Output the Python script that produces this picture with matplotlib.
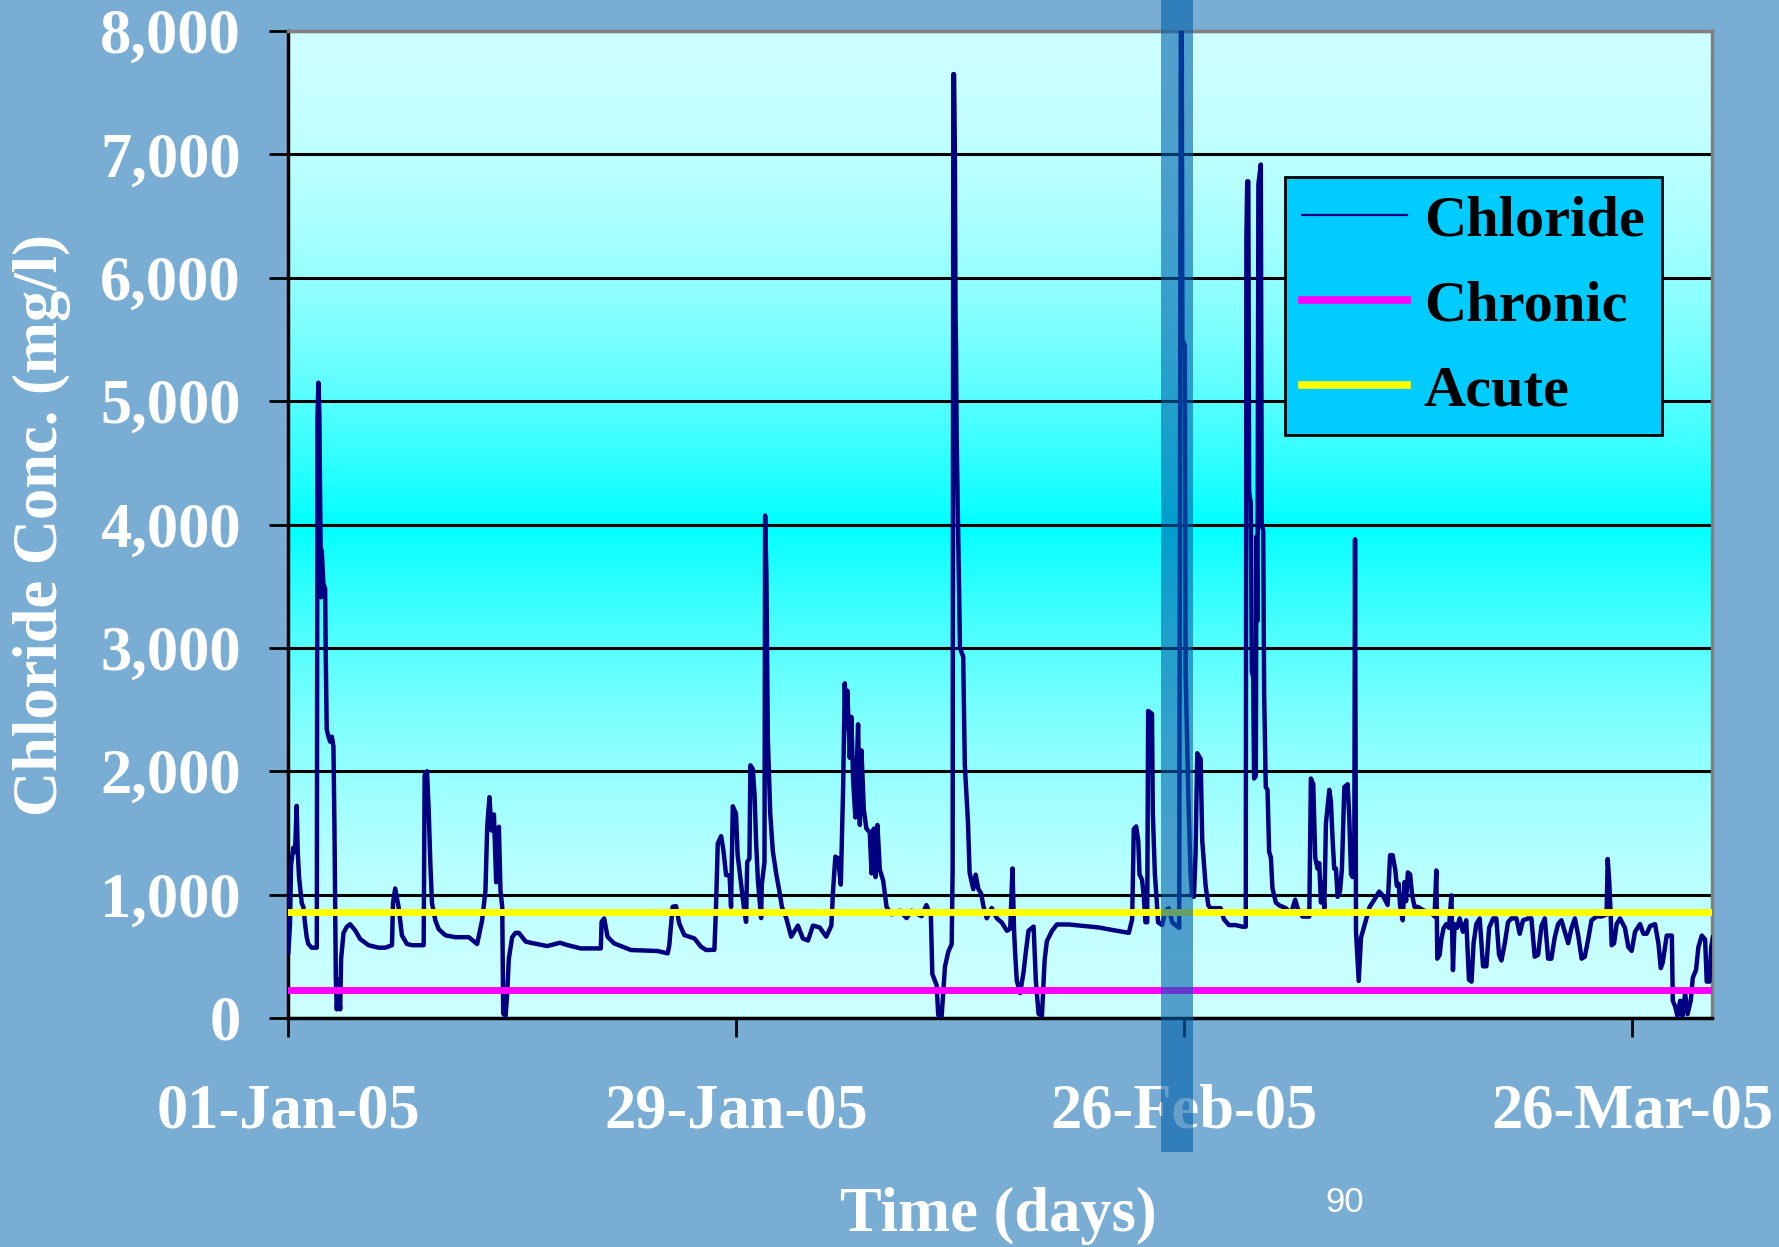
import matplotlib
matplotlib.use('Agg')
import matplotlib.pyplot as plt
import numpy as np
from matplotlib.patches import Rectangle
from matplotlib.ticker import FuncFormatter

# days since 01-Jan-05 and chloride concentration (mg/l)
day = [
    0.02, 0.125, 0.19, 0.33, 0.44, 0.54, 0.61, 0.69, 0.86, 0.96, 1.07, 1.17, 1.27, 1.48, 1.80,
    1.84, 1.90, 1.96, 2.00, 2.07, 2.11, 2.21, 2.32, 2.36, 2.42, 2.53, 2.63, 2.74, 2.84, 2.90,
    2.94, 2.99, 3.05, 3.15, 3.26, 3.32, 3.47, 3.68, 3.88, 4.20, 4.51, 5.03, 5.66, 6.08, 6.50,
    6.56, 6.70, 6.91, 7.12, 7.43, 7.75, 8.48, 8.54, 8.69, 8.79, 8.90, 9.00, 9.21, 9.42, 9.84,
    10.46, 11.30, 11.82, 12.13, 12.34, 12.45, 12.59, 12.72, 12.87, 13.01, 13.18, 13.28, 13.39,
    13.45, 13.60, 13.70, 13.80, 14.01, 14.22, 14.43, 14.85,
    15.16, 16.20, 17.00, 17.46, 18.30, 19.55, 19.60, 19.76, 19.97, 20.38, 21.43, 23.10, 23.73,
    23.83, 24.04, 24.25, 24.45, 24.77, 25.40, 25.81, 26.13, 26.65,
    26.75, 26.86, 27.07, 27.22, 27.38, 27.60, 27.69, 27.80, 28.00, 28.10, 28.32, 28.49, 28.63,
    28.70, 28.84, 28.90, 29.05, 29.16, 29.26, 29.37, 29.57, 29.61, 29.78, 29.82, 29.90, 29.99,
    30.14, 30.30, 30.51, 30.72, 30.87, 31.14, 31.45, 31.87, 32.18, 32.50, 32.81, 33.23, 33.64,
    33.96, 34.06, 34.21, 34.38, 34.55, 34.69, 34.80, 34.86, 34.96, 35.11, 35.21, 35.32, 35.46,
    35.63, 35.74, 35.84, 35.99, 36.15, 36.36, 36.47, 36.61, 36.72, 36.84, 36.99, 37.20, 37.41,
    37.72, 38.24, 38.66, 38.97, 39.60, 39.90, 40.18, 40.27, 40.54, 40.64, 40.85, 41.06, 41.27,
    41.48,
    41.54, 41.58, 41.63, 41.68, 41.72, 41.75, 41.79, 42.00, 42.20, 42.30, 42.50, 42.60, 42.83,
    42.98, 43.15, 43.32, 43.46, 43.67, 43.98, 44.30, 44.61, 44.93, 45.14, 45.28, 45.38, 45.44,
    45.55, 45.76, 45.97, 46.12, 46.28, 46.60, 46.74, 46.91, 47.12, 47.29, 47.43, 47.75, 48.06,
    48.79, 49.63, 50.67, 51.50, 52.55,
    52.76, 52.86, 53.01, 53.14, 53.22, 53.38, 53.49, 53.59, 53.70, 53.76, 54.00, 54.05, 54.18,
    54.28, 54.38, 54.63, 54.84, 55.05, 55.26, 55.47, 55.70, 55.74, 55.80, 55.86, 55.90, 56.05,
    56.10, 56.27, 56.41, 56.50, 56.62, 56.72, 56.83, 57.04, 57.14, 57.35, 57.52, 57.66, 58.29,
    58.50, 58.81, 59.23, 59.65, 59.86, 59.90, 59.95, 60.02, 60.07, 60.17, 60.24, 60.32, 60.38,
    60.49, 60.53, 60.59, 60.65, 60.80, 60.86, 60.95, 61.01, 61.11, 61.22, 61.32, 61.43, 61.53,
    61.74, 61.95, 62.37, 62.68, 62.95, 63.10, 63.41, 63.83, 63.93, 64.08, 64.20, 64.35, 64.45,
    64.56, 64.66, 64.77, 64.87, 65.08, 65.18, 65.29, 65.39, 65.50, 65.60, 65.75, 65.87, 66.02,
    66.23, 66.33, 66.44, 66.54, 66.64, 66.69, 66.75, 66.92, 67.06, 67.38, 67.60, 67.90, 68.20,
    68.42,
    68.73, 68.88, 69.04, 69.21, 69.30, 69.42, 69.50, 69.67, 69.78, 69.88, 69.99, 70.13, 70.26,
    70.41, 70.62, 71.00, 71.40, 71.66, 71.77, 71.83, 71.98, 72.08, 72.23, 72.39, 72.56, 72.71,
    72.81, 72.91, 73.06, 73.23, 73.43, 73.64, 73.81, 73.97, 74.10, 74.27, 74.48, 74.69, 74.90,
    75.07, 75.32, 75.52, 75.69, 75.84, 76.05, 76.25, 76.46, 76.78, 76.98, 77.19, 77.50, 77.71,
    77.92, 78.13, 78.34, 78.55, 78.76, 78.96, 79.17, 79.38, 79.59, 79.80, 80.01, 80.22, 80.43,
    80.64, 80.85, 81.05, 81.26, 81.47, 81.79, 82.10, 82.41, 82.48, 82.58, 82.67, 82.73, 82.88,
    83.04, 83.25, 83.56, 83.77, 83.98, 84.19, 84.50, 84.71, 84.92, 85.13, 85.44, 85.65, 85.80,
    85.92, 86.17, 86.49, 86.55, 86.70, 86.84, 87.01, 87.15, 87.32, 87.47, 87.67, 87.80, 88.00,
    88.15, 88.36, 88.57, 88.67, 88.84, 88.95, 89.05,
]
chloride = [
    530, 760, 1240, 1380, 1345, 1720, 1345, 1140, 930, 900, 760, 655, 600, 570, 570,
    4860, 5150, 4900, 4310, 3410, 3790, 3520, 3480, 2930, 2340, 2280, 2240, 2280, 2200, 1590,
    1030, 310, 70, 310, 70, 480, 690, 740, 760, 710, 640, 590, 570, 570, 590,
    930, 1050, 900, 670, 600, 590, 590, 1970, 2000, 1690, 1240, 930, 790, 720, 670,
    655, 655, 600, 790, 1030, 1550, 1790, 1520, 1650, 1100, 1550, 1030, 900,
    35, 17, 200, 480, 655, 690, 690, 620,
    610, 583, 610, 591, 564, 564, 780, 807, 659, 605, 551, 543, 524,
    591, 902, 907, 767, 672, 645, 578, 551, 553,
    900, 1414, 1474, 1353, 1157, 1157, 900, 1716, 1656, 1323, 1081, 900, 779,
    1263, 1293, 2048, 2018, 1807, 1414, 1112, 810, 1081, 1263, 4073, 3589, 2260,
    1656, 1353, 1172, 1021, 900, 810, 659, 749, 644, 628, 749, 734, 659,
    749, 1021, 1308, 1293, 1081, 1837, 2713, 2350, 2653, 2109, 2441, 1927, 1625,
    2381, 1565, 2169, 1686, 1535, 1505, 1172, 1535, 1142, 1565, 1202, 1112, 900,
    840, 870, 810, 870, 825, 915, 825, 356, 266, 24, 9, 417, 538,
    598,
    1212, 7650, 7650, 7000, 5700, 5450, 4714, 2997, 2929, 2054, 1582, 1178, 1044,
    1162, 1044, 1010, 909, 808, 892, 808, 774, 707, 724, 1212, 707, 539,
    303, 202, 370, 539, 707, 741, 303, 34, 17, 471, 623, 707, 758,
    758, 747, 734, 714, 690,
    799, 1530, 1553, 1438, 1164, 1119, 982, 776, 776, 2489, 2466, 1667, 1164,
    982, 776, 753, 868, 890, 776, 753, 731, 3770, 8000, 8000, 5500, 5450,
    2808, 1800, 1170, 1000, 982, 1324, 2146, 2100, 1438, 1073, 913, 890, 890,
    799, 753, 753, 740, 740, 6324, 6781, 6781, 4269, 4178, 2808, 2763, 1941,
    1963, 3904, 3219, 6758, 6918, 3995, 3950, 2626, 1872, 1849, 1347, 1301, 1050,
    936, 913, 890, 845, 959, 890, 822, 822, 1941, 1895, 1301, 1210, 1256,
    936, 1096, 890, 1575, 1849, 1758, 1438, 1210, 1210, 982, 1027, 1210, 1872,
    1895, 1621, 1164, 1142, 1164, 3881, 700, 300, 650, 800, 900, 960, 1025,
    994,
    916, 1320, 1320, 1196, 1071, 1087, 916, 792, 1102, 947, 1180, 1165, 994,
    901, 901, 870, 860, 823, 1196, 481, 512, 637, 730, 761, 730, 994,
    388, 761, 730, 807, 699, 792, 311, 295, 606, 761, 807, 419, 419,
    730, 807, 807, 512, 466, 606, 776, 807, 807, 683, 792, 807, 807,
    497, 512, 745, 807, 481, 481, 652, 761, 792, 699, 606, 730, 807,
    668, 481, 497, 637, 792, 823, 823, 839, 1289, 1102, 823, 590, 606,
    761, 807, 730, 575, 544, 699, 761, 683, 683, 745, 761, 606, 404,
    450, 668, 668, 140, 93, 16, 140, 16, 202, 31, 140, 326, 388,
    575, 668, 637, 295, 295, 575, 652,
]
chronic_limit = 230
acute_limit = 860
series_names = ['Chloride', 'Chronic', 'Acute']
tick_days = [0, 28, 56, 84]
tick_labels = ['01-Jan-05', '29-Jan-05', '26-Feb-05', '26-Mar-05']

plt.rcParams['font.family'] = ['Liberation Serif', 'DejaVu Serif']
plt.rcParams['font.weight'] = 'bold'

W, H = 1779, 1247
fig = plt.figure(figsize=(W / 100, H / 100), dpi=100)
fig.patch.set_facecolor('#7AADD3')
ax = fig.add_axes([288 / W, 1 - 1018 / H, (1712 - 288) / W, (1018 - 31) / H])

# cyan gradient: pale at top and bottom, saturated around 4000
yy = np.linspace(0, 8000, 400)
t = np.abs(yy - 4000) / 4000
grad = np.ones((len(yy), 1, 3))
grad[:, 0, 0] = 204 * (1 - (1 - t) ** 1.9) / 255
ax.imshow(grad, extent=[0, 89, 0, 8000], origin='lower', aspect='auto', zorder=0)

ax.plot(day, chloride, color='#000080', lw=3.2, zorder=3, label=series_names[0])
ax.axhline(chronic_limit, color='#FF00FF', lw=5, zorder=4, label=series_names[1])
ax.axhline(acute_limit, color='#FFFF00', lw=5, zorder=4, label=series_names[2])

ax.set_axisbelow(True)
ax.yaxis.grid(True, color='black', lw=2.2)
ax.set_xlim(0, 89)
ax.set_ylim(0, 8000)
ax.set_yticks(range(0, 8001, 1000))
ax.yaxis.set_major_formatter(FuncFormatter(lambda v, p: f'{int(v):,}'))
ax.set_xticks(tick_days, tick_labels)
ax.tick_params(direction='out', length=14, width=2, colors='black',
               labelcolor='white', labelsize=45)
ax.tick_params(axis='y', pad=20)
ax.tick_params(axis='x', pad=33)

for side in ['left', 'bottom']:
    ax.spines[side].set_color('black')
    ax.spines[side].set_linewidth(2.5)
for side in ['top', 'right']:
    ax.spines[side].set_color('#808080')
    ax.spines[side].set_linewidth(2.5)

fig.text(42 / W, 1 - 525 / H, 'Chloride Conc. (mg/l)', rotation=90, color='white',
         fontsize=45, ha='center', va='center')
fig.text(998 / W, 1 - 1216 / H, 'Time (days)', color='white', fontsize=45,
         ha='center', va='center')

leg = ax.legend(loc='upper right', bbox_to_anchor=(1662 / W, 1 - 177 / H),
                bbox_transform=fig.transFigure, borderaxespad=0,
                prop=dict(family='Liberation Serif', weight='bold', size=42),
                handlelength=1.8, handletextpad=0.28, borderpad=0.3, labelspacing=0.55,
                facecolor='#00CCFF', edgecolor='black', framealpha=1, fancybox=False)
leg.get_frame().set_linewidth(2)
for ln, w in zip(leg.get_lines(), [1.6, 5.5, 5.5]):
    ln.set_linewidth(w)

# highlight bar over 26-Feb
fig.add_artist(Rectangle((1161 / W, 1 - 1152 / H), 32 / W, 1152 / H,
                         transform=fig.transFigure, facecolor='#005FAA',
                         alpha=0.6, zorder=10))

fig.text(1345 / W, 1 - 1203 / H, '90', color='white', fontsize=25,
         family='Liberation Sans', weight='normal', ha='center', va='center')

fig.savefig('out.png', dpi=100, facecolor=fig.get_facecolor())
